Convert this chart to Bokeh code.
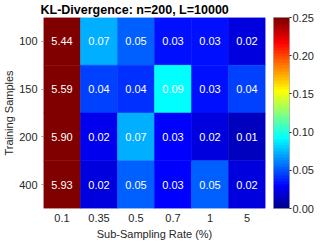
import numpy as np
from bokeh.plotting import figure
from bokeh.models import ColumnDataSource, LinearColorMapper, ColorBar, FixedTicker, PrintfTickFormatter
from bokeh.core.properties import value
from bokeh.embed import file_html
from bokeh.resources import INLINE

# ---- data ----
rates = ["0.1", "0.35", "0.5", "0.7", "1", "5"]
samples = ["100", "150", "200", "400"]
kl_100 = [5.44, 0.074, 0.053, 0.033, 0.032, 0.022]
kl_150 = [5.59, 0.044, 0.040, 0.090, 0.032, 0.043]
kl_200 = [5.90, 0.024, 0.073, 0.031, 0.022, 0.013]
kl_400 = [5.93, 0.022, 0.052, 0.030, 0.052, 0.021]
cbar_ticks = [0.00, 0.05, 0.10, 0.15, 0.20, 0.25]
title_text = "KL-Divergence: n=200, L=10000"

# ---- MATLAB jet(64) palette ----
def jet64():
    n, m = 64, 16
    u = np.concatenate([np.arange(1, m + 1) / m, np.ones(m - 1), np.arange(m, 0, -1) / m])
    k = np.arange(1, len(u) + 1)
    g = 8 + k
    r = g + m
    b = g - m
    J = np.zeros((n, 3))
    gm = g <= n
    J[g[gm] - 1, 1] = u[gm]
    rm = r <= n
    J[r[rm] - 1, 0] = u[rm]
    bm = b >= 1
    J[b[bm] - 1, 2] = u[bm]
    return ["#%02x%02x%02x" % tuple(int(round(c * 255)) for c in row) for row in J]

palette = jet64()

rows = {"100": kl_100, "150": kl_150, "200": kl_200, "400": kl_400}
xs, ys, vs, labels = [], [], [], []
for s in samples:
    for r, v in zip(rates, rows[s]):
        xs.append(r)
        ys.append(s)
        vs.append(v)
        labels.append("%.2f" % v)
src = ColumnDataSource(dict(x=xs, y=ys, v=vs, lab=labels))

mapper = LinearColorMapper(palette=palette, low=0.0, high=0.25,
                           high_color=palette[-1], low_color=palette[0])

FONT = "Liberation Sans"
TXT = "#262626"
FW, FH = 222, 191

p = figure(frame_width=FW, frame_height=FH, x_range=rates, y_range=list(reversed(samples)),
           output_backend="svg", toolbar_location=None, title=title_text,
           min_border_left=0, min_border_right=60, min_border_top=12, min_border_bottom=0)

p.rect(x="x", y="y", width=1, height=1, source=src,
       fill_color={"field": "v", "transform": mapper},
       line_color={"field": "v", "transform": mapper}, line_width=0.5)
p.text(x="x", y="y", text="lab", source=src, text_color="white",
       text_font=value(FONT), text_font_size="11px",
       text_align="center", text_baseline="middle")

p.title.text_font = FONT
p.title.text_font_size = "12.5px"
p.title.text_font_style = "bold"
p.title.text_color = "#000000"
p.title.align = "left"
p.title.offset = -3
p.title.standoff = 1

p.xgrid.visible = False
p.ygrid.visible = False
p.outline_line_color = None
p.background_fill_color = "white"

for ax in (p.xaxis[0], p.yaxis[0]):
    ax.axis_line_color = None
    ax.minor_tick_line_color = None
    ax.minor_tick_out = 0
    ax.minor_tick_in = 0
    ax.major_label_text_font = FONT
    ax.major_label_text_font_size = "11px"
    ax.major_label_text_color = TXT
    ax.axis_label_text_font = FONT
    ax.axis_label_text_font_size = "11px"
    ax.axis_label_text_font_style = "normal"
    ax.axis_label_text_color = TXT

p.xaxis.major_tick_line_color = None
p.xaxis.major_tick_out = 0
p.xaxis.major_tick_in = 0
p.xaxis.major_label_standoff = 5
p.yaxis.major_tick_line_color = "#999999"
p.yaxis.major_tick_out = 2
p.yaxis.major_tick_in = 0
p.yaxis.major_label_standoff = 4

p.xaxis.axis_label = "Sub-Sampling Rate (%)"
p.yaxis.axis_label = "Training Samples"
p.xaxis.axis_label_standoff = 3
p.yaxis.axis_label_standoff = 1

cb = ColorBar(color_mapper=mapper, ticker=FixedTicker(ticks=cbar_ticks),
              formatter=PrintfTickFormatter(format="%.2f"),
              location=(FW + 8, 0), width=16, height=FH, padding=0, margin=0,
              major_label_text_font=FONT, major_label_text_font_size="11px",
              major_label_text_color=TXT, label_standoff=1,
              major_tick_line_color=TXT, major_tick_out=2, major_tick_in=0,
              bar_line_color="#888888", bar_line_width=0.5,
              background_fill_color=None, border_line_color=None)
p.add_layout(cb, "center")

open("out.html", "w").write(file_html(p, INLINE))
